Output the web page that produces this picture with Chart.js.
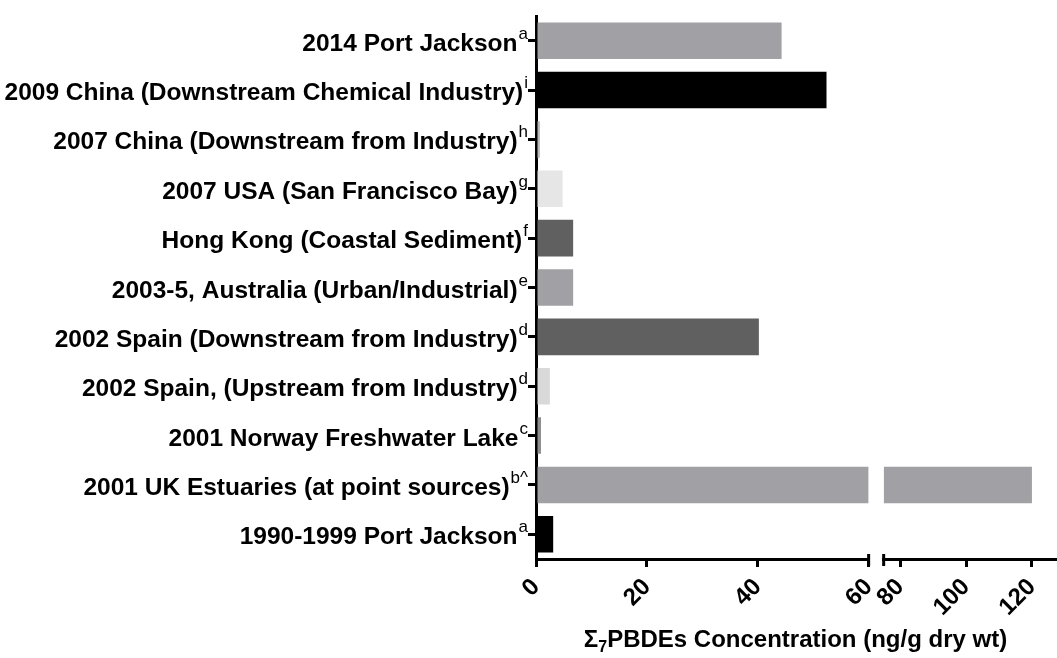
<!DOCTYPE html>
<html lang="en">
<head>
<meta charset="UTF-8">
<title>PBDE concentrations</title>
<style>
  html, body { margin: 0; padding: 0; background: #fff; }
  canvas { display: block; }
</style>
</head>
<body>
<canvas id="myChart" width="1057" height="658"></canvas>

<script src="https://cdn.jsdelivr.net/npm/chart.js"></script>
<script>
// sites, top to bottom, with their reference letters
var sites = [
  "2014 Port Jackson",
  "2009 China (Downstream Chemical Industry)",
  "2007 China (Downstream from Industry)",
  "2007 USA (San Francisco Bay)",
  "Hong Kong (Coastal Sediment)",
  "2003-5, Australia (Urban/Industrial)",
  "2002 Spain (Downstream from Industry)",
  "2002 Spain, (Upstream from Industry)",
  "2001 Norway Freshwater Lake",
  "2001 UK Estuaries (at point sources)",
  "1990-1999 Port Jackson"
];
var refs = ["a", "i", "h", "g", "f", "e", "d", "d", "c", "b^", "a"];

// sum of 7 PBDEs, ng/g dry wt
var concentration = [44.3, 52.4, 0.7, 4.8, 6.7, 6.7, 40.2, 2.5, 0.9, 120, 3.1];

var barColors = ["#a1a0a5", "#000000", "#bbbbbb", "#e6e6e6", "#606060", "#a1a0a5",
                 "#606060", "#d9d9d9", "#8e8e8e", "#a1a0a5", "#000000"];

// broken x axis: 0-60 then 75-127
var lowTicks = [0, 20, 40, 60];
var highTicks = [80, 100, 120];
var LOW_MAX = 60, HIGH_MIN = 75, HIGH_MAX = 127;

var lowPart = concentration.map(v => Math.min(v, LOW_MAX));
var highPart = concentration.map(v => v > LOW_MAX ? [HIGH_MIN, v] : null);

var FONT = '"Liberation Sans", Arial, sans-serif';

// category labels with superscript reference letters
var siteLabels = {
  id: 'siteLabels',
  afterDraw(chart) {
    var ctx = chart.ctx, yScale = chart.scales.y;
    var right = yScale.right - 8;
    ctx.save();
    ctx.fillStyle = '#000';
    ctx.textAlign = 'right';
    ctx.textBaseline = 'alphabetic';
    sites.forEach(function (s, i) {
      var py = yScale.getPixelForTick(i);
      ctx.font = '17px ' + FONT;
      var sw = ctx.measureText(refs[i]).width;
      ctx.fillText(refs[i], right, py - 2);
      ctx.font = 'bold 24.5px ' + FONT;
      ctx.fillText(s, right - sw - 1, py + 10);
    });
    ctx.restore();
  }
};

// end caps on both sides of the axis break
var axisBreak = {
  id: 'axisBreak',
  afterDraw(chart) {
    var ctx = chart.ctx;
    var yb = chart.chartArea.bottom;
    var xs = [chart.scales.x1.getPixelForValue(LOW_MAX), chart.scales.x2.getPixelForValue(HIGH_MIN)];
    ctx.save();
    ctx.strokeStyle = '#000';
    ctx.lineWidth = 3;
    ctx.beginPath();
    xs.forEach(function (x) {
      ctx.moveTo(x, yb - 5);
      ctx.lineTo(x, yb + 7);
    });
    ctx.stroke();
    ctx.restore();
  }
};

// x title with subscript 7
var axisTitle = {
  id: 'axisTitle',
  afterDraw(chart) {
    var ctx = chart.ctx;
    var cx = (chart.scales.x1.left + chart.scales.x2.right) / 2;
    var base = 647;
    var parts = [
      { t: "\u03A3", f: 'bold 24px ' + FONT, dy: 0 },
      { t: "7", f: 'bold 16px ' + FONT, dy: 5 },
      { t: "PBDEs Concentration (ng/g dry wt)", f: 'bold 24px ' + FONT, dy: 0 }
    ];
    ctx.save();
    ctx.fillStyle = '#000';
    ctx.textAlign = 'left';
    ctx.textBaseline = 'alphabetic';
    var total = 0;
    parts.forEach(p => { ctx.font = p.f; p.w = ctx.measureText(p.t).width; total += p.w; });
    var x = cx - total / 2;
    parts.forEach(p => { ctx.font = p.f; ctx.fillText(p.t, x, base + p.dy); x += p.w; });
    ctx.restore();
  }
};

function keepTicks(list) {
  return function (scale) {
    scale.ticks = list.map(v => ({ value: v }));
  };
}

function fitBottom(scale) {
  scale.height = 99;
  scale.paddingLeft = 0;
  scale.paddingRight = 0;
}

function xAxis(min, max, weight, list) {
  return {
    type: 'linear',
    axis: 'x',
    position: 'bottom',
    stack: 'xb',
    stackWeight: weight,
    min: min,
    max: max,
    afterBuildTicks: keepTicks(list),
    afterFit: fitBottom,
    border: { display: true, color: '#000', width: 3 },
    grid: { display: true, drawOnChartArea: false, color: '#000', lineWidth: 3, tickLength: 8 },
    ticks: {
      color: '#000',
      font: { family: FONT, size: 24, weight: 'bold' },
      minRotation: 45,
      maxRotation: 45,
      padding: 6
    }
  };
}

var chart = new Chart("myChart", {
  type: "bar",
  data: {
    labels: sites,
    datasets: [
      {
        data: lowPart,
        xAxisID: 'x1',
        backgroundColor: barColors,
        grouped: false,
        categoryPercentage: 1,
        barPercentage: 0.74
      },
      {
        data: highPart,
        xAxisID: 'x2',
        backgroundColor: barColors,
        grouped: false,
        categoryPercentage: 1,
        barPercentage: 0.74
      }
    ]
  },
  options: {
    indexAxis: 'y',
    responsive: false,
    animation: false,
    layout: { padding: { left: 0, right: 2, top: 16, bottom: 0 } },
    plugins: {
      legend: { display: false },
      tooltip: { enabled: false }
    },
    scales: {
      x1: xAxis(0, LOW_MAX, 332, lowTicks),
      xGap: {
        type: 'linear',
        axis: 'x',
        position: 'bottom',
        stack: 'xb',
        stackWeight: 15,
        afterFit: fitBottom,
        border: { display: false },
        grid: { display: false },
        ticks: { display: false }
      },
      x2: xAxis(HIGH_MIN, HIGH_MAX, 171, highTicks),
      y: {
        type: 'category',
        position: 'left',
        afterFit: function (scale) { scale.width = 536; },
        border: { display: true, color: '#000', width: 3 },
        grid: { display: true, offset: false, drawOnChartArea: false, color: '#000', lineWidth: 3, tickLength: 8 },
        ticks: { display: false }
      }
    }
  },
  plugins: [siteLabels, axisBreak, axisTitle]
});
</script>
</body>
</html>
